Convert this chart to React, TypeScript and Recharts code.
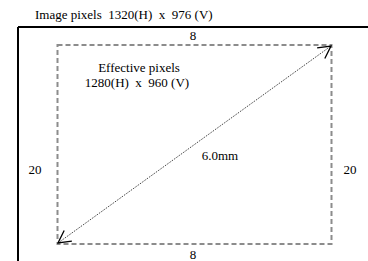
import { ReferenceArea, ReferenceLine, Scatter, ScatterChart, XAxis, YAxis } from "recharts";

// diagram coordinates (drawing units, origin top-left)
const outerTop = [{ x: 18, y: 27 }, { x: 368, y: 27 }];
const outerLeft = [{ x: 18, y: 27 }, { x: 18, y: 261 }];
const effectiveX = [57.5, 331.5];
const effectiveY = [45, 244];
const diagonal = [{ x: 58, y: 243 }, { x: 331, y: 46 }];

const labels = [
  { x: 35, y: 19, text: "Image pixels  1320(H)  x  976 (V)", anchor: "start" },
  { x: 193, y: 40, text: "8", anchor: "middle" },
  { x: 193, y: 259, text: "8", anchor: "middle" },
  { x: 35, y: 174, text: "20", anchor: "middle" },
  { x: 350, y: 174, text: "20", anchor: "middle" },
  { x: 139, y: 72, text: "Effective pixels", anchor: "middle" },
  { x: 137, y: 87, text: "1280(H)  x  960 (V)", anchor: "middle" },
  { x: 220, y: 160, text: "6.0mm", anchor: "middle" }
];

const font = "Liberation Serif, Times New Roman, DejaVu Serif, serif";

function TextMark(props: any) {
  const { cx, cy, payload } = props;
  return (
    <text
      x={cx}
      y={cy}
      textAnchor={payload.anchor}
      fill="#000"
      style={{ whiteSpace: "pre", fontFamily: font, fontSize: 13 }}
    >
      {payload.text}
    </text>
  );
}

function ArrowLine(props: any) {
  const { x1, y1, x2, y2 } = props;
  const len = 14;
  const spread = (28 * Math.PI) / 180;
  const barbs = (tx: number, ty: number, fx: number, fy: number) => {
    const a = Math.atan2(fy - ty, fx - tx);
    const b1 = [tx + len * Math.cos(a + spread), ty + len * Math.sin(a + spread)];
    const b2 = [tx + len * Math.cos(a - spread), ty + len * Math.sin(a - spread)];
    return `M${b1[0]},${b1[1]}L${tx},${ty}L${b2[0]},${b2[1]}`;
  };
  return (
    <g>
      <line x1={x1} y1={y1} x2={x2} y2={y2} stroke="#000" strokeWidth={0.9} strokeDasharray="1 1.2" />
      <path d={barbs(x1, y1, x2, y2)} stroke="#000" strokeWidth={1.3} fill="none" />
      <path d={barbs(x2, y2, x1, y1)} stroke="#000" strokeWidth={1.3} fill="none" />
    </g>
  );
}

export default function App() {
  return (
    <div style={{ position: "absolute", left: 0, top: 0, background: "#fff" }}>
      <ScatterChart width={368} height={261} margin={{ top: 0, right: 0, bottom: 0, left: 0 }}>
        <XAxis type="number" dataKey="x" domain={[0, 368]} hide />
        <YAxis type="number" dataKey="y" domain={[0, 261]} reversed hide />
        <ReferenceLine segment={outerTop} stroke="#000" strokeWidth={2} />
        <ReferenceLine segment={outerLeft} stroke="#000" strokeWidth={2} />
        <ReferenceArea
          x1={effectiveX[0]}
          x2={effectiveX[1]}
          y1={effectiveY[0]}
          y2={effectiveY[1]}
          fill="none"
          fillOpacity={0}
          stroke="#8c8c8c"
          strokeWidth={2}
          strokeDasharray="5 3"
        />
        <ReferenceLine segment={diagonal} shape={ArrowLine} />
        <Scatter data={labels} shape={TextMark} isAnimationActive={false} />
      </ScatterChart>
    </div>
  );
}
